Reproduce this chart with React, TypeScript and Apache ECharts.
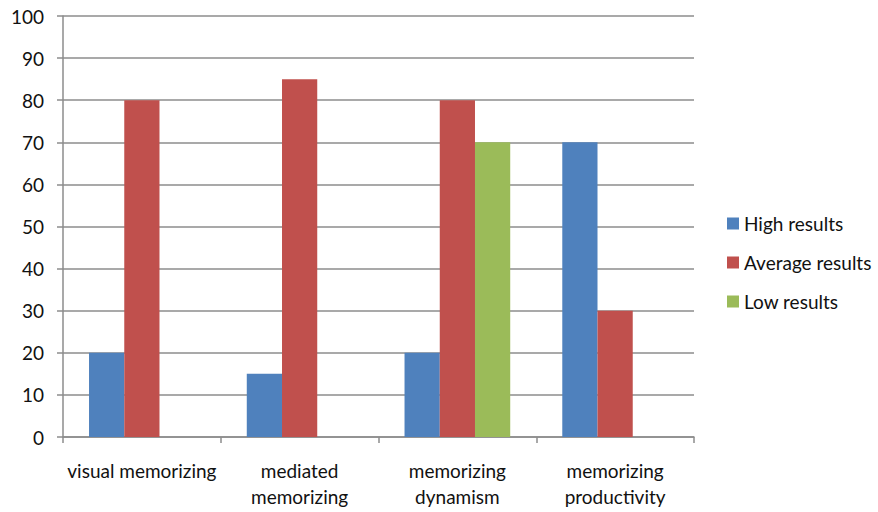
import React, { useEffect, useRef } from "react";
import * as echarts from "echarts";

const categories = ["visual memorizing", "mediated\nmemorizing", "memorizing\ndynamism", "memorizing\nproductivity"];
const highResults = [20, 15, 20, 70];
const averageResults = [80, 85, 80, 30];
const lowResults = [0, 0, 70, 0];
const seriesNames = ["High results", "Average results", "Low results"];
const colors = ["#4F81BD", "#C0504D", "#9BBB59"];

export default function App() {
  const ref = useRef<HTMLDivElement>(null);
  useEffect(() => {
    document.body.style.margin = "0";
    if (!ref.current) return;
    const chart = echarts.init(ref.current, null, { renderer: "svg" });
    const font = "Lato, 'Open Sans', sans-serif";
    const data = [highResults, averageResults, lowResults];
    chart.setOption({
      animation: false,
      textStyle: { fontFamily: font },
      grid: { left: 63, right: 184, top: 16, bottom: 75, containLabel: false },
      legend: {
        orient: "vertical",
        left: 727,
        top: 214,
        padding: 0,
        itemWidth: 12,
        itemHeight: 12,
        itemGap: 20,
        icon: "rect",
        textStyle: { fontSize: 19, color: "#111", fontFamily: font },
        data: seriesNames,
      },
      xAxis: {
        type: "category",
        data: categories,
        axisLine: { lineStyle: { color: "#8c8c8c", width: 1.5 } },
        axisTick: { show: true, length: 6, lineStyle: { color: "#8c8c8c", width: 1.5 } },
        axisLabel: { interval: 0, fontSize: 19, color: "#111", margin: 20, lineHeight: 26, fontFamily: font },
      },
      yAxis: {
        type: "value",
        min: 0,
        max: 100,
        interval: 10,
        axisLine: { show: true, lineStyle: { color: "#8c8c8c", width: 1.5 } },
        axisTick: { show: true, length: 6, lineStyle: { color: "#8c8c8c", width: 1.5 } },
        splitLine: { lineStyle: { color: "#8c8c8c", width: 1.5 } },
        axisLabel: { fontSize: 19, color: "#111", margin: 19, fontFamily: font },
      },
      series: seriesNames.map((name, i) => ({
        name,
        type: "bar",
        data: data[i],
        barGap: "0%",
        barCategoryGap: "33%",
        itemStyle: { color: colors[i] },
      })),
    });
    return () => chart.dispose();
  }, []);
  return <div ref={ref} style={{ width: 878, height: 512 }} />;
}
